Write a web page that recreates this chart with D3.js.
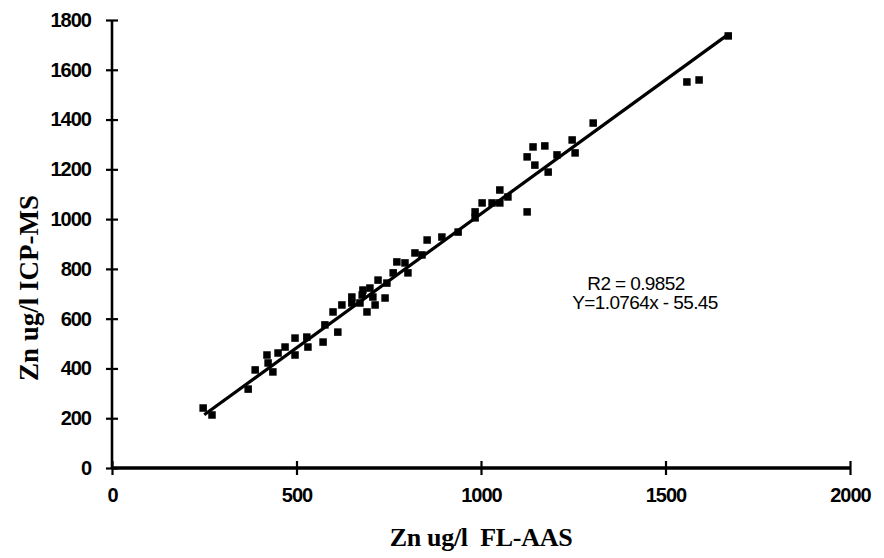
<!DOCTYPE html>
<html>
<head>
<meta charset="utf-8">
<script src="https://cdn.jsdelivr.net/npm/d3@7"></script>
<style>
  body { margin: 0; background: #fff; }
  svg { display: block; }
</style>
</head>
<body>
<div id="chart"></div>
<script>
// Zn, ug/l : FL-AAS (x) vs ICP-MS (y)
const flaas = [247, 271, 369, 388, 420, 436, 450, 469, 496, 423, 531, 496, 528, 572, 612, 577, 599, 623, 650, 650,
  691, 713, 699, 678, 721, 745, 672, 680, 707, 740, 762, 772, 794, 802, 821, 840, 854, 894, 938, 984,
  984, 1003, 1030, 1051, 1073, 1051, 1125, 1125, 1146, 1141, 1173, 1182, 1206, 1247, 1255, 1304, 1558, 1591, 1670];
const icpms = [241, 213, 317, 394, 454, 386, 462, 486, 454, 422, 486, 522, 526, 506, 546, 575, 627, 655, 687, 663,
  627, 655, 723, 695, 755, 743, 663, 715, 687, 683, 784, 828, 824, 784, 864, 856, 916, 928, 948, 1029,
  1005, 1065, 1065, 1117, 1089, 1065, 1029, 1250, 1217, 1290, 1294, 1189, 1258, 1318, 1266, 1386, 1551, 1559, 1736];

const fitSlope = 1.0764, fitIntercept = -55.45;
const fitRange = [250, 1670];
const xTicks = [0, 500, 1000, 1500, 2000];
const yTicks = [0, 200, 400, 600, 800, 1000, 1200, 1400, 1600, 1800];
const statLines = ["R2 = 0.9852", "Y=1.0764x - 55.45"];

const width = 884, height = 558;
const svg = d3.select("#chart").append("svg")
  .attr("width", width)
  .attr("height", height);

const x = d3.scaleLinear().domain([0, 2000]).range([112, 850]);
const y = d3.scaleLinear().domain([0, 1800]).range([468, 20]);

const tickFont = sel => sel
  .attr("font-family", "Liberation Sans, Arial, sans-serif")
  .attr("font-weight", "bold")
  .attr("font-size", 20)
  .attr("letter-spacing", -1)
  .attr("fill", "#000");

// y axis
const yAxis = svg.append("g")
  .attr("transform", `translate(${x(0)},0)`)
  .call(d3.axisLeft(y).tickValues(yTicks).tickFormat(d3.format("d")).tickSize(6).tickPadding(15).tickSizeOuter(0));
yAxis.select(".domain").attr("stroke-width", 2.6).attr("d", `M0,${y(1800)}V${y(0)}`);
yAxis.selectAll(".tick line").attr("x1", 6).attr("stroke-width", 2.2);
yAxis.selectAll(".tick text").call(tickFont);

// x axis
const xAxis = svg.append("g")
  .attr("transform", `translate(0,${y(0)})`)
  .call(d3.axisBottom(x).tickValues(xTicks).tickFormat(d3.format("d")).tickSize(7).tickSizeOuter(0));
xAxis.select(".domain").attr("stroke-width", 3.4).attr("d", `M${x(0)},0H${x(2000)}`);
xAxis.selectAll(".tick line").attr("y1", -7).attr("stroke-width", 2.2);
xAxis.selectAll(".tick text")
  .attr("y", 27)
  .attr("dy", "0.35em")
  .call(tickFont);

// axis titles
svg.append("text")
  .attr("x", 481)
  .attr("y", 546)
  .attr("text-anchor", "middle")
  .attr("font-family", "Liberation Serif, Times New Roman, serif")
  .attr("font-weight", "bold")
  .attr("font-size", 26)
  .attr("letter-spacing", -0.3)
  .attr("xml:space", "preserve")
  .text("Zn ug/l  FL-AAS");

svg.append("text")
  .attr("transform", "translate(38,288) rotate(-90)")
  .attr("text-anchor", "middle")
  .attr("font-family", "Liberation Serif, Times New Roman, serif")
  .attr("font-weight", "bold")
  .attr("font-size", 27)
  .text("Zn ug/l ICP-MS");

// regression line
svg.append("line")
  .attr("x1", x(fitRange[0]))
  .attr("y1", y(fitSlope * fitRange[0] + fitIntercept))
  .attr("x2", x(fitRange[1]))
  .attr("y2", y(fitSlope * fitRange[1] + fitIntercept))
  .attr("stroke", "#000")
  .attr("stroke-width", 3.2);

// points
const pts = flaas.map((v, i) => ({ fl: v, icp: icpms[i] }));
const s = 7.5;
svg.append("g")
  .selectAll("rect")
  .data(pts)
  .join("rect")
  .attr("x", d => x(d.fl) - s / 2)
  .attr("y", d => y(d.icp) - s / 2)
  .attr("width", s)
  .attr("height", s)
  .attr("fill", "#000");

// stats text
svg.append("g")
  .selectAll("text")
  .data(statLines)
  .join("text")
  .attr("x", (d, i) => i == 0 ? 636 : 645)
  .attr("y", (d, i) => 290 + i * 19)
  .attr("text-anchor", "middle")
  .attr("font-family", "Liberation Sans, Arial, sans-serif")
  .attr("font-size", 19)
  .attr("letter-spacing", -0.6)
  .text(d => d);
</script>
</body>
</html>
